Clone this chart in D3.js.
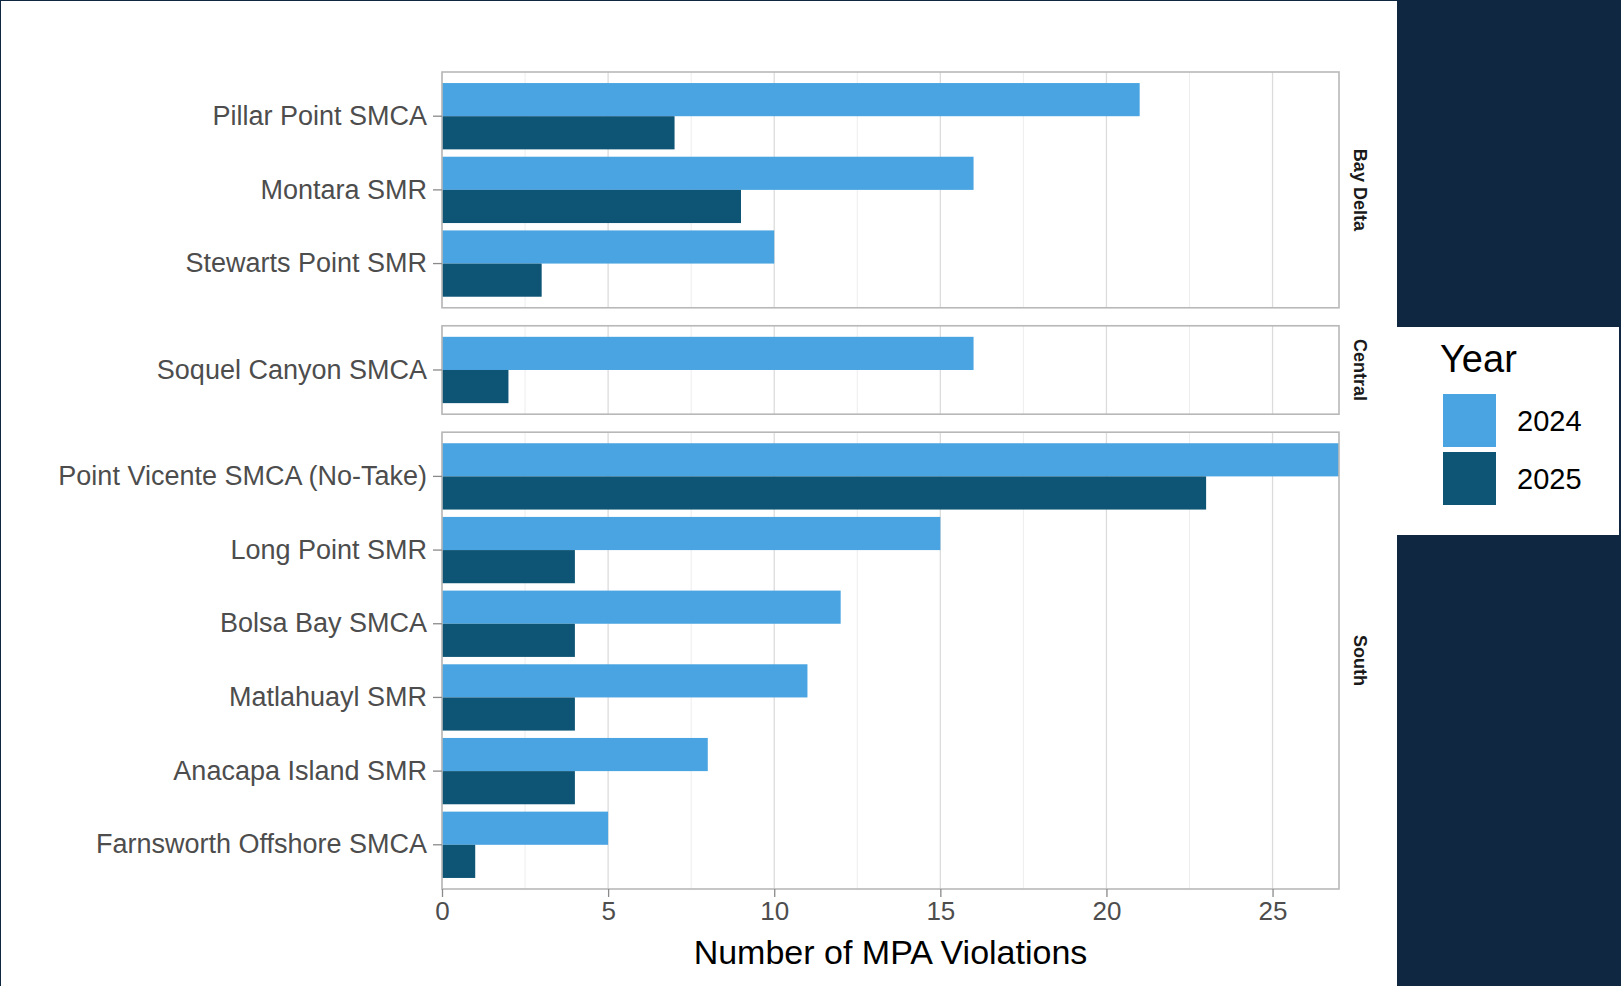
<!DOCTYPE html>
<html>
<head>
<meta charset="utf-8">
<script src="https://cdn.jsdelivr.net/npm/d3@7"></script>
<style>
    body { margin: 0; background: #0f2741; }
    svg { display: block; }
</style>
</head>
<body>
<script>
// data
const sites = ['Pillar Point SMCA', 'Montara SMR', 'Stewarts Point SMR',
    'Soquel Canyon SMCA',
    'Point Vicente SMCA (No-Take)', 'Long Point SMR', 'Bolsa Bay SMCA', 'Matlahuayl SMR', 'Anacapa Island SMR', 'Farnsworth Offshore SMCA'];
const siteRegion = ['Bay Delta', 'Bay Delta', 'Bay Delta',
    'Central',
    'South', 'South', 'South', 'South', 'South', 'South'];
const violations2024 = [21, 16, 10, 16, 27, 15, 12, 11, 8, 5];
const violations2025 = [7, 9, 3, 2, 23, 4, 4, 4, 4, 1];
const regions = ['Bay Delta', 'Central', 'South'];
const years = ['2024', '2025'];
const xTicks = [0, 5, 10, 15, 20, 25];
const xMinor = [2.5, 7.5, 12.5, 17.5, 22.5];

const yearColor = d3.scaleOrdinal().domain(years).range(['#49a4e1', '#0d5475']);

// layout
const W = 1621, H = 986
const pnlLeft = 442
const pnlRight = 1339
const pnlTop = 72
const pnlBottom = 889
const pnlGap = 18
const font = 'Liberation Sans, Arial, Helvetica, sans-serif'

const rows = sites.map((s, i) => ({site: s, region: siteRegion[i], vals: [violations2024[i], violations2025[i]]}));

const svg = d3.select('body')
    .append('svg')
    .attr('width', W)
    .attr('height', H);

svg.append('rect')
    .attr('x', 0).attr('y', 0).attr('width', W).attr('height', H)
    .attr('fill', '#0f2741');

// white plot background
svg.append('rect')
    .attr('x', 1).attr('y', 1).attr('width', 1396).attr('height', H - 1)
    .attr('fill', 'white');

const x = d3.scaleLinear()
    .domain([0, 27])
    .range([pnlLeft, pnlRight]);

// panel heights follow category counts (free space, like facet_grid)
const counts = regions.map(r => rows.filter(d => d.region === r).length);
const unit = (pnlBottom - pnlTop - pnlGap * (regions.length - 1)) / d3.sum(counts, n => n + 0.2);

let yPos = pnlTop;
regions.forEach((r, ri) => {
    const data = rows.filter(d => d.region === r);
    const h = (counts[ri] + 0.2) * unit;
    drawPanel(r, data, yPos, h);
    yPos += h + pnlGap;
});

function drawPanel(region, data, top, h) {
    const g = svg.append('g');

    const y = d3.scaleBand()
        .domain(data.map(d => d.site))
        .range([top, top + h])
        .paddingInner(0.1)
        .paddingOuter(0.15);

    const yInner = d3.scaleBand()
        .domain(years)
        .range([0, y.bandwidth()]);

    // grid
    g.selectAll('.minor')
        .data(xMinor)
        .enter()
        .append('line')
        .attr('x1', d => x(d)).attr('x2', d => x(d))
        .attr('y1', top).attr('y2', top + h)
        .attr('stroke', '#ededed')
        .attr('stroke-width', 1);

    g.selectAll('.major')
        .data(xTicks)
        .enter()
        .append('line')
        .attr('x1', d => x(d)).attr('x2', d => x(d))
        .attr('y1', top).attr('y2', top + h)
        .attr('stroke', '#dcdcdc')
        .attr('stroke-width', 1.3);

    // bars
    const grp = g.selectAll('.site')
        .data(data)
        .enter()
        .append('g')
        .attr('transform', d => `translate(0,${y(d.site)})`);

    grp.selectAll('rect')
        .data(d => d.vals.map((v, i) => ({year: years[i], v: v})))
        .enter()
        .append('rect')
        .attr('x', x(0))
        .attr('y', d => yInner(d.year))
        .attr('width', d => x(d.v) - x(0))
        .attr('height', yInner.bandwidth())
        .attr('fill', d => yearColor(d.year));

    // border
    g.append('rect')
        .attr('x', pnlLeft).attr('y', top)
        .attr('width', pnlRight - pnlLeft).attr('height', h)
        .attr('fill', 'none')
        .attr('stroke', '#b8b8b8')
        .attr('stroke-width', 1.6);

    // y axis
    const ax = g.append('g')
        .attr('transform', `translate(${pnlLeft},0)`)
        .call(d3.axisLeft(y).tickSize(9).tickPadding(6));
    ax.select('.domain').remove();
    ax.selectAll('line').attr('stroke', '#8a8a8a').attr('stroke-width', 1.3);
    ax.selectAll('text')
        .attr('font-family', font)
        .attr('font-size', '27px')
        .attr('fill', '#4d4d4d');

    // strip label
    g.append('text')
        .attr('transform', `translate(${pnlRight + 21},${top + h / 2}) rotate(90)`)
        .attr('text-anchor', 'middle')
        .attr('dy', '0.35em')
        .attr('font-family', font)
        .attr('font-weight', 'bold')
        .attr('font-size', '18px')
        .attr('fill', '#1a1a1a')
        .text(region);
}

// x axis
const xAx = svg.append('g')
    .attr('transform', `translate(0,${pnlBottom})`)
    .call(d3.axisBottom(x).tickValues(xTicks).tickSize(8).tickPadding(5));
xAx.select('.domain').remove();
xAx.selectAll('line').attr('stroke', '#8a8a8a').attr('stroke-width', 1.3);
xAx.selectAll('text')
    .attr('font-family', font)
    .attr('font-size', '26px')
    .attr('fill', '#4d4d4d');

svg.append('text')
    .attr('x', (pnlLeft + pnlRight) / 2)
    .attr('y', 964)
    .attr('text-anchor', 'middle')
    .attr('font-family', font)
    .attr('font-size', '34px')
    .attr('fill', 'black')
    .text('Number of MPA Violations');

// legend
const leg = svg.append('g');
leg.append('rect')
    .attr('x', 1397).attr('y', 327)
    .attr('width', 222).attr('height', 208)
    .attr('fill', 'white');
leg.append('text')
    .attr('x', 1440).attr('y', 372)
    .attr('font-family', font)
    .attr('font-size', '38px')
    .attr('fill', 'black')
    .text('Year');

const keys = leg.selectAll('.key')
    .data(years)
    .enter()
    .append('g')
    .attr('transform', (d, i) => `translate(1443,${394 + i * 58})`);
keys.append('rect')
    .attr('width', 53).attr('height', 53)
    .attr('fill', d => yearColor(d));
keys.append('text')
    .attr('x', 74).attr('y', 27)
    .attr('dy', '0.35em')
    .attr('font-family', font)
    .attr('font-size', '29px')
    .attr('fill', 'black')
    .text(d => d);
</script>
</body>
</html>
